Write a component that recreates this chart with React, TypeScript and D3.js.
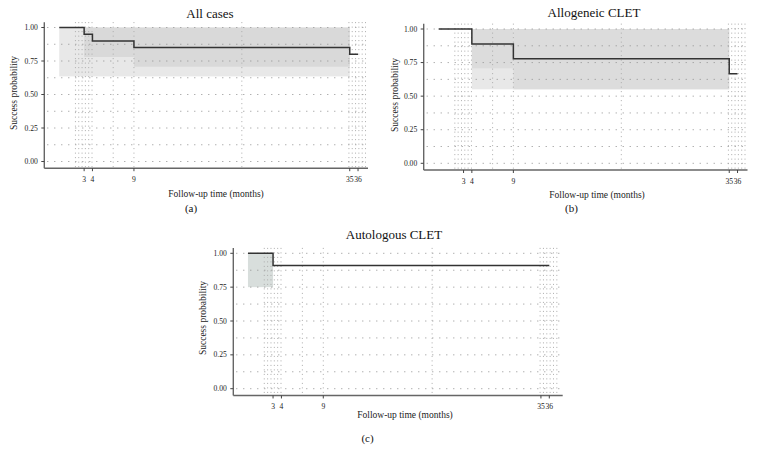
import React from "react";
import * as d3 from "d3";

// ---------- data ----------
const panelTitles = ["All cases", "Allogeneic CLET", "Autologous CLET"];
const panelTags = ["(a)", "(b)", "(c)"];
const xAxisTitle = "Follow-up time (months)";
const yAxisTitle = "Success probability";

const xTickValues = [3, 4, 9, 35, 36];
const yTickValues = [0, 0.25, 0.5, 0.75, 1];
const yGridValues = [0, 0.125, 0.25, 0.375, 0.5, 0.625, 0.75, 0.875, 1];
const xGridValues = [1.95, 2.35, 2.75, 3.15, 3.55, 3.95, 6.5, 9, 22, 34.9, 35.3, 35.7, 36.1, 36.5, 36.9];

// Kaplan–Meier step curves (time, survival)
const allTimes = [0, 3, 4, 9, 35, 36];
const allSurv = [1, 0.95, 0.9, 0.85, 0.8, 0.8];
const alloTimes = [0, 4, 9, 35, 36];
const alloSurv = [1, 0.889, 0.778, 0.667, 0.667];
const autoTimes = [0, 3, 36];
const autoSurv = [1, 0.909, 0.909];

// confidence bands
const allOuterBand = [{ t0: 0, t1: 35, lo: 0.635, hi: 1 }];
const allInnerBand = [
  { t0: 3, t1: 9, lo: 0.78, hi: 1 },
  { t0: 9, t1: 35, lo: 0.707, hi: 1 },
];
const alloOuterBand = [{ t0: 4, t1: 35, lo: 0.551, hi: 1 }];
const alloInnerBand = [
  { t0: 4, t1: 9, lo: 0.707, hi: 1 },
  { t0: 9, t1: 35, lo: 0.551, hi: 1 },
];
const autoOuterBand = [{ t0: 0, t1: 3, lo: 0.75, hi: 1 }];
const autoInnerBand: { t0: number; t1: number; lo: number; hi: number }[] = [];

// ---------- layout ----------
const layouts = [
  {
    xDomain: [-1.8, 37.2], xRange: [44.3, 368], yRange: [161.5, 27.5],
    title: [210, 18], xlab: [216, 196.5], ylab: [13.5, 93], tag: [191, 212],
    outerFill: "#e8e8e8", innerFill: "#d9d9d9",
  },
  {
    xDomain: [-1.8, 37.2], xRange: [423.7, 747.5], yRange: [163.3, 29],
    title: [594, 17], xlab: [597, 197.5], ylab: [394.5, 95], tag: [571.5, 212],
    outerFill: "#e8e8e8", innerFill: "#dcdcdc",
  },
  {
    xDomain: [-1.75, 37.6], xRange: [233.3, 562.7], yRange: [388.7, 253.3],
    title: [394, 239], xlab: [405, 418], ylab: [203, 318], tag: [367.5, 442],
    outerFill: "#d8dedc", innerFill: "#d8dedc",
  },
];

const curves = [
  { times: allTimes, surv: allSurv, outer: allOuterBand, inner: allInnerBand },
  { times: alloTimes, surv: alloSurv, outer: alloOuterBand, inner: alloInnerBand },
  { times: autoTimes, surv: autoSurv, outer: autoOuterBand, inner: autoInnerBand },
];

const FONT = "'Liberation Serif', 'DejaVu Serif', serif";

function Panel({ idx }: { idx: number }) {
  const L = layouts[idx];
  const c = curves[idx];
  const x = d3.scaleLinear().domain(L.xDomain).range(L.xRange);
  const y = d3.scaleLinear().domain([0, 1]).range(L.yRange);
  const [xl, xr] = L.xRange;
  const yBottom = y(-0.05);
  const yTop = y(1.04);

  const pts: [number, number][] = c.times.map((t, i) => [t, c.surv[i]]);
  const line = d3
    .line<[number, number]>()
    .x((d) => x(d[0]))
    .y((d) => y(d[1]))
    .curve(d3.curveStepAfter);

  return (
    <g>
      {c.outer.map((b, i) => (
        <rect key={"o" + i} x={x(b.t0)} y={y(b.hi)} width={x(b.t1) - x(b.t0)} height={y(b.lo) - y(b.hi)} fill={L.outerFill} />
      ))}
      {c.inner.map((b, i) => (
        <rect key={"i" + i} x={x(b.t0)} y={y(b.hi)} width={x(b.t1) - x(b.t0)} height={y(b.lo) - y(b.hi)} fill={L.innerFill} />
      ))}
      {yGridValues.map((v) => (
        <line key={"hg" + v} x1={xl + 3} x2={xr} y1={y(v)} y2={y(v)} stroke="#8f8f8f" strokeWidth={1} strokeDasharray="1 6" />
      ))}
      {xGridValues.map((v) => (
        <line key={"vg" + v} x1={x(v)} x2={x(v)} y1={yTop} y2={yBottom} stroke="#ababab" strokeWidth={1} strokeDasharray="1 3.5" />
      ))}
      <path d={line(pts) || ""} fill="none" stroke="#333" strokeWidth={1.5} />
      {/* axes */}
      <line x1={xl} x2={xl} y1={yTop} y2={yBottom} stroke="#666" strokeWidth={1.4} />
      <line x1={xl} x2={xr} y1={yBottom} y2={yBottom} stroke="#666" strokeWidth={1.4} />
      {yTickValues.map((v) => (
        <g key={"yt" + v}>
          <line x1={xl - 3} x2={xl} y1={y(v)} y2={y(v)} stroke="#444" strokeWidth={1} />
          <text x={xl - 6.5} y={y(v)} dy="0.33em" textAnchor="end" fontSize={7.6} fill="#222" fontFamily={FONT}>
            {d3.format(".2f")(v)}
          </text>
        </g>
      ))}
      {xTickValues.map((v) => (
        <g key={"xt" + v}>
          <line x1={x(v)} x2={x(v)} y1={yBottom} y2={yBottom + 3} stroke="#444" strokeWidth={1} />
          <text x={x(v)} y={yBottom + 14} textAnchor="middle" fontSize={7.6} fill="#222" fontFamily={FONT}>
            {v}
          </text>
        </g>
      ))}
      <text x={L.title[0]} y={L.title[1]} textAnchor="middle" fontSize={13} fill="#111" fontFamily={FONT}>
        {panelTitles[idx]}
      </text>
      <text x={L.xlab[0]} y={L.xlab[1]} textAnchor="middle" fontSize={9.5} fill="#222" fontFamily={FONT}>
        {xAxisTitle}
      </text>
      <text
        transform={`translate(${L.ylab[0]},${L.ylab[1]}) rotate(-90)`}
        textAnchor="middle"
        dy="0.35em"
        fontSize={9.5}
        fill="#222"
        fontFamily={FONT}
      >
        {yAxisTitle}
      </text>
      <text x={L.tag[0]} y={L.tag[1]} textAnchor="middle" fontSize={11} fill="#111" fontFamily={FONT}>
        {panelTags[idx]}
      </text>
    </g>
  );
}

export default function App() {
  return (
    <svg
      width={760}
      height={453}
      viewBox="0 0 760 453"
      style={{ position: "absolute", left: 0, top: 0, background: "#fff" }}
    >
      <rect width={760} height={453} fill="#fff" />
      {panelTitles.map((_, i) => (
        <Panel key={i} idx={i} />
      ))}
    </svg>
  );
}
